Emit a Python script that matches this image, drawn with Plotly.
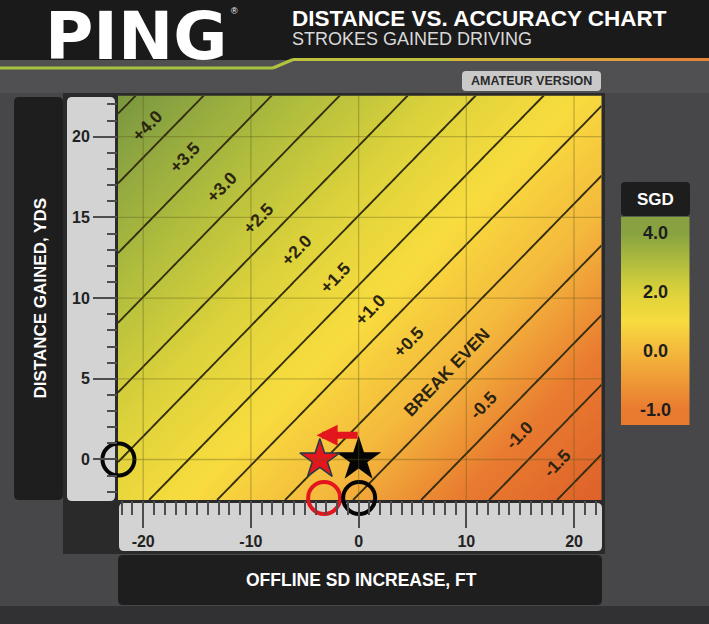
import numpy as np
import plotly.graph_objects as go

W, H = 709, 624
FONT = "Liberation Sans, Arial, sans-serif"
LOGO_FONT = "DejaVu Sans, Liberation Sans, sans-serif"

# Axes
X_RANGE = [-22.34, 22.55]
Y_RANGE = [-2.51, 22.55]
X_TICKS = [-20, -10, 0, 10, 20]
X_TICK_TEXT = ["-20", "-10", "0", "10", "20"]
Y_TICKS = [0, 5, 10, 15, 20]
Y_TICK_TEXT = ["0", "5", "10", "15", "20"]

# SGD model taken from the spacing of the diagonal lines
SGD_PER_YD = 0.1158   # strokes gained per yard of extra distance
SGD_PER_FT = 0.0792   # strokes lost per foot of extra offline SD
LINE_START, LINE_END, LINE_STEP = -1.75, 4.25, 0.5

# Band labels
LABEL_TEXT = ["+4.0", "+3.5", "+3.0", "+2.5", "+2.0", "+1.5", "+1.0", "+0.5",
              "BREAK EVEN", "-0.5", "-1.0", "-1.5"]
LABEL_X = [-19.64, -16.12, -12.71, -9.25, -5.75, -2.19, 1.06, 4.61, 8.18, 11.58, 14.92, 18.45]
LABEL_Y = [20.66, 18.76, 16.90, 14.94, 12.98, 11.25, 9.26, 7.30, 5.44, 3.38, 1.52, -0.24]

# Player markers
STAR_X = [0.0, -3.6]
STAR_Y = [0.0, 0.0]
STAR_COLORS = ["#050505", "#e3161d"]
CIRCLE_X = [-22.7, -22.3, -3.2, 0.05]
CIRCLE_Y = [0.35, 0.0, -2.38, -2.38]
CIRCLE_COLORS = ["#e3161d", "#050505", "#e3161d", "#050505"]
ARROW_TAIL = (0.05, 1.5)
ARROW_TIP = (-3.9, 1.5)

# Colour scale
SCALE_SGD = [-2.25, -1.0, 0.0, 1.0, 2.0, 3.0, 4.0, 4.75]
SCALE_COLORS = ["#dc5c28", "#e97b30", "#f4b93d", "#f8dc3e", "#dcd23b", "#b0bd3d", "#88a241", "#6a8a3b"]

# SGD key
CB_VALUES = [-1.0, 0.0, 2.0, 4.0]
CB_LABELS = ["-1.0", "0.0", "2.0", "4.0"]


def X(px):
    return px / W


def Y(py):
    return 1 - py / H


def rrect(x0, y0, x1, y1, r, color):
    p = (f"M {X(x0 + r)},{Y(y0)} L {X(x1 - r)},{Y(y0)} Q {X(x1)},{Y(y0)} {X(x1)},{Y(y0 + r)} "
         f"L {X(x1)},{Y(y1 - r)} Q {X(x1)},{Y(y1)} {X(x1 - r)},{Y(y1)} "
         f"L {X(x0 + r)},{Y(y1)} Q {X(x0)},{Y(y1)} {X(x0)},{Y(y1 - r)} "
         f"L {X(x0)},{Y(y0 + r)} Q {X(x0)},{Y(y0)} {X(x0 + r)},{Y(y0)} Z")
    return dict(type="path", path=p, xref="paper", yref="paper",
                fillcolor=color, line=dict(width=0), layer="below")


def label(text, px, py, size, color, bold=True, family=FONT, **kw):
    return dict(text=text, x=X(px), y=Y(py), xref="paper", yref="paper",
                xanchor=kw.pop("xanchor", "center"), yanchor="middle", showarrow=False,
                font=dict(family=family, size=size, color=color,
                          weight="bold" if bold else "normal"), **kw)


lo, hi = SCALE_SGD[0], SCALE_SGD[-1]
colorscale = [[(v - lo) / (hi - lo), c] for v, c in zip(SCALE_SGD, SCALE_COLORS)]

gx = np.linspace(X_RANGE[0], X_RANGE[1], 60)
gy = np.linspace(Y_RANGE[0], Y_RANGE[1], 40)
gz = SGD_PER_YD * gy[:, None] - SGD_PER_FT * gx[None, :]

fig = go.Figure()

fig.add_trace(go.Contour(
    x=gx, y=gy, z=gz,
    colorscale=colorscale, zmin=lo, zmax=hi, zauto=False,
    autocontour=False,
    contours=dict(start=LINE_START, end=LINE_END, size=LINE_STEP,
                  coloring="heatmap", showlines=True),
    line=dict(color="#352f10", width=1.9),
    showscale=False, hoverinfo="skip",
))

fig.add_trace(go.Scatter(
    x=CIRCLE_X, y=CIRCLE_Y, mode="markers", cliponaxis=False,
    marker=dict(symbol="circle-open", size=32, color=CIRCLE_COLORS, opacity=1,
                line=dict(width=4, color=CIRCLE_COLORS)),
    hoverinfo="skip", showlegend=False,
))

fig.add_trace(go.Scatter(
    x=STAR_X, y=STAR_Y, mode="markers", cliponaxis=False,
    marker=dict(symbol="star", size=[34, 30], color=STAR_COLORS, opacity=1,
                line=dict(width=[0, 1.5], color=["#050505", "#233a4a"])),
    hoverinfo="skip", showlegend=False,
))

# SGD key as a small heatmap on its own axes
fig.add_trace(go.Heatmap(
    x=[0, 1], y=list(range(len(CB_VALUES))), z=[[v, v] for v in CB_VALUES],
    colorscale=colorscale, zmin=lo, zmax=hi, zsmooth="best",
    showscale=False, hoverinfo="skip", xaxis="x2", yaxis="y2",
))

shapes = [
    # header band
    dict(type="path", xref="paper", yref="paper", layer="below",
         path=(f"M 0,1 L 1,1 L 1,{Y(59.5)} L {X(293)},{Y(59.5)} "
               f"L {X(273)},{Y(68)} L 0,{Y(68)} Z"),
         fillcolor="#1b1a1a", line=dict(width=0)),
    # lighter band under the header
    dict(type="rect", xref="paper", yref="paper", layer="below",
         x0=0, x1=1, y0=Y(93), y1=Y(60), fillcolor="#505053", line=dict(width=0)),
    # darker floor of the page
    dict(type="rect", xref="paper", yref="paper", layer="below",
         x0=0, x1=1, y0=0, y1=Y(606), fillcolor="#313133", line=dict(width=0)),
    # dark frame behind the panels
    dict(type="rect", xref="paper", yref="paper", layer="below",
         x0=X(63), x1=X(605), y0=Y(554), y1=Y(93), fillcolor="#2b2a2a", line=dict(width=0)),
    rrect(14, 97, 63, 500, 5, "#1f1e1e"),
    rrect(67, 97, 115, 501, 5, "#d3d3d3"),
    rrect(119, 503, 602, 551, 5, "#d3d3d3"),
    rrect(118, 555, 602, 605, 5, "#1f1e1e"),
    rrect(462, 71, 601, 91, 4, "#c9c9c9"),
    rrect(621, 182, 690, 216, 4, "#1e1d1d"),
]

# separator line under the header, shading from green to orange
sep_pts = [(0, 68), (273, 68), (293, 59.5), (450, 59.5), (560, 59.5), (640, 59.5), (709, 59.5)]
sep_cols = ["#a6c13e", "#b3c33d", "#bfc23c", "#d2b83b", "#dea23a", "#e3863a"]
for (ax0, ay0), (ax1, ay1), c in zip(sep_pts[:-1], sep_pts[1:], sep_cols):
    shapes.append(dict(type="line", xref="paper", yref="paper", layer="above",
                       x0=X(ax0), y0=Y(ay0), x1=X(ax1), y1=Y(ay1),
                       line=dict(color=c, width=3)))

# faint grid above the colour field
for t in X_TICKS:
    shapes.append(dict(type="line", xref="x", yref="y domain", x0=t, x1=t, y0=0, y1=1,
                       line=dict(color="rgba(95,85,25,0.35)", width=1.3), layer="above"))
for t in Y_TICKS:
    shapes.append(dict(type="line", xref="x domain", yref="y", x0=0, x1=1, y0=t, y1=t,
                       line=dict(color="rgba(95,85,25,0.35)", width=1.3), layer="above"))

annotations = [
    label("PING", 136, 36, 66, "white", family=LOGO_FONT),
    label("®", 234, 11, 9, "white", bold=False),
    label("DISTANCE VS. ACCURACY CHART", 290, 18.5, 22.5, "white", xanchor="left"),
    label("STROKES GAINED DRIVING", 290, 39, 18, "#d9d9d9", bold=False, xanchor="left"),
    label("AMATEUR VERSION", 531.5, 81.5, 12.5, "#2a2a2a"),
    label("DISTANCE GAINED, YDS", 39.5, 298, 17, "white", textangle=-90),
    label("OFFLINE SD INCREASE, FT", 361, 580, 17.5, "white"),
    label("SGD", 655.5, 199.5, 17, "white"),
    dict(text="", x=ARROW_TIP[0], y=ARROW_TIP[1], ax=ARROW_TAIL[0], ay=ARROW_TAIL[1],
         xref="x", yref="y", axref="x", ayref="y", showarrow=True,
         arrowhead=2, arrowsize=0.6, arrowwidth=7, arrowcolor="#e3161d"),
]

for txt, lx, ly in zip(LABEL_TEXT, LABEL_X, LABEL_Y):
    annotations.append(dict(text=txt, x=lx, y=ly, xref="x", yref="y", showarrow=False,
                            xanchor="center", yanchor="middle", textangle=-46,
                            font=dict(family=FONT, size=17.5, color="#2b2410", weight="bold")))

for i, lab in enumerate(CB_LABELS):
    annotations.append(dict(text=lab, x=0.5, y=i, xref="x2", yref="y2", showarrow=False,
                            xanchor="center", yanchor="middle",
                            font=dict(family=FONT, size=18, color="#1e1e1e", weight="bold")))

tick_font = dict(family=FONT, size=16, color="#222222", weight="bold")

fig.update_layout(
    width=W, height=H, autosize=False,
    margin=dict(l=0, r=0, t=0, b=0),
    paper_bgcolor="#47474a", plot_bgcolor="rgba(0,0,0,0)",
    showlegend=False,
    shapes=shapes, annotations=annotations,
    xaxis=dict(domain=[X(118), X(601.5)], range=X_RANGE,
               tickmode="array", tickvals=X_TICKS, ticktext=X_TICK_TEXT,
               ticks="outside", ticklen=27, tickwidth=2, tickcolor="#4d4d4d",
               minor=dict(tickmode="linear", tick0=0, dtick=1, ticks="outside",
                          ticklen=14, tickwidth=1.5, tickcolor="#4d4d4d"),
               showgrid=False, zeroline=False, showline=False, tickfont=tick_font),
    yaxis=dict(domain=[Y(500), Y(95.5)], range=Y_RANGE,
               tickmode="array", tickvals=Y_TICKS, ticktext=Y_TICK_TEXT,
               ticks="outside", ticklen=24, tickwidth=2, tickcolor="#4d4d4d",
               minor=dict(tickmode="linear", tick0=0, dtick=1, ticks="outside",
                          ticklen=10, tickwidth=1.5, tickcolor="#4d4d4d"),
               showgrid=False, zeroline=False, showline=False, tickfont=tick_font),
    xaxis2=dict(domain=[X(621), X(689.5)], range=[-0.5, 1.5], visible=False),
    yaxis2=dict(domain=[Y(425), Y(216.5)], range=[-0.26, 3.28], visible=False),
)

fig.write_html("out.html", config={"displayModeBar": False},
               post_script="document.body.style.margin='0';")
